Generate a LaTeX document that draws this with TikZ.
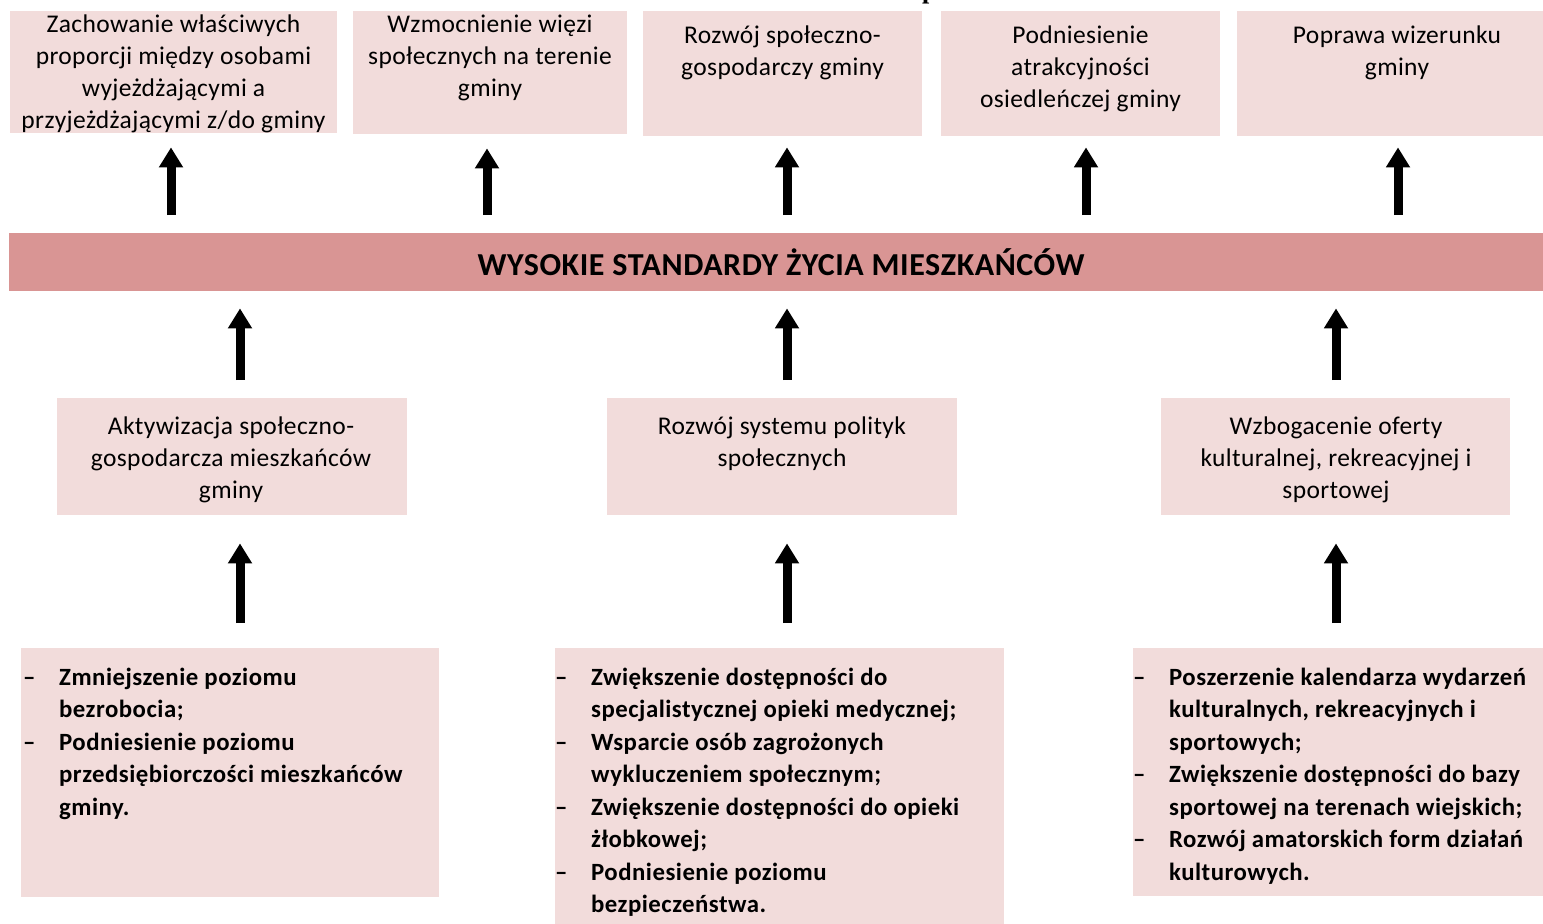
\documentclass[tikz,border=0pt]{standalone}
\usepackage{fontspec}
\setmainfont{Carlito}
\newfontfamily\titlefont{Liberation Serif}
\usetikzlibrary{arrows.meta,calc}
\definecolor{boxpink}{HTML}{F2DCDB}
\definecolor{bandpink}{HTML}{D99594}
\begin{document}
\begin{tikzpicture}[x=1pt,y=-1pt,
  box/.style={fill=boxpink, draw=none, anchor=north west, inner sep=0pt},
  txt/.style={anchor=north, align=center, inner sep=0pt, font=\fontsize{25.5}{32}\selectfont\addfontfeature{LetterSpace=1.5}},
  listtxt/.style={anchor=north west, inner sep=0pt, font=\bfseries\fontsize{24.8}{32.5}\selectfont\addfontfeature{LetterSpace=2}},
  bigarrow/.style={line width=9pt, -{Triangle[width=23pt,length=20pt]}},
]
\useasboundingbox (0,0) rectangle (1543,924);
\begin{scope}
\clip (0,0) rectangle (1543,924);
\node[font=\titlefont\bfseries\fontsize{26}{30}\selectfont, anchor=base, inner sep=0pt] (title) at (780,-2) {Schemat 4. Drzewo celów – sfera społeczna};
\end{scope}

% top boxes
\node[box, minimum width=327pt, minimum height=122pt] (t1) at (10,11) {};
\node[box, minimum width=274pt, minimum height=123pt] (t2) at (353,11) {};
\node[box, minimum width=279pt, minimum height=125pt] (t3) at (643,11) {};
\node[box, minimum width=279pt, minimum height=125pt] (t4) at (941,11) {};
\node[box, minimum width=306pt, minimum height=125pt] (t5) at (1237,11) {};
\node[txt] (t1t) at (173.5,15) {Zachowanie właściwych\\proporcji między osobami\\wyjeżdżającymi a\\przyjeżdżającymi z/do gminy};
\node[txt] (t2t) at (490,15) {Wzmocnienie więzi\\społecznych na terenie\\gminy};
\node[txt] (t3t) at (782.5,26) {Rozwój społeczno-\\gospodarczy gminy};
\node[txt] (t4t) at (1080.5,26) {Podniesienie\\atrakcyjności\\osiedleńczej gminy};
\node[txt] (t5t) at (1397,26) {Poprawa wizerunku\\gminy};

% band
\node[fill=bandpink, anchor=north west, inner sep=0pt, minimum width=1534pt, minimum height=58pt] (band) at (9,233) {};
\node[font=\bfseries\fontsize{32}{36}\selectfont\addfontfeature{LetterSpace=1.8}, inner sep=0pt] (bandt) at (781,262) {WYSOKIE STANDARDY ŻYCIA MIESZKAŃCÓW};

% middle boxes
\node[box, minimum width=350pt, minimum height=117pt] (m1) at (57,398) {};
\node[box, minimum width=350pt, minimum height=117pt] (m2) at (607,398) {};
\node[box, minimum width=349pt, minimum height=117pt] (m3) at (1161,398) {};
\node[txt] (m1t) at (231,417) {Aktywizacja społeczno-\\gospodarcza mieszkańców\\gminy};
\node[txt] (m2t) at (782,417) {Rozwój systemu polityk\\społecznych};
\node[txt] (m3t) at (1336,417) {Wzbogacenie oferty\\kulturalnej, rekreacyjnej i\\sportowej};

% bottom boxes
\node[box, minimum width=418pt, minimum height=249pt] (b1) at (21,648) {};
\node[box, minimum width=449pt, minimum height=276pt] (b2) at (555,648) {};
\node[box, minimum width=410pt, minimum height=248pt] (b3) at (1133,648) {};
\node[listtxt] (b1t) at (23,662.5) {\begin{tabular}{@{}p{36pt}@{}l@{}}
–&Zmniejszenie poziomu\\
&bezrobocia;\\
–&Podniesienie poziomu\\
&przedsiębiorczości mieszkańców\\
&gminy.
\end{tabular}};
\node[listtxt] (b2t) at (555,662.5) {\begin{tabular}{@{}p{36pt}@{}l@{}}
–&Zwiększenie dostępności do\\
&specjalistycznej opieki medycznej;\\
–&Wsparcie osób zagrożonych\\
&wykluczeniem społecznym;\\
–&Zwiększenie dostępności do opieki\\
&żłobkowej;\\
–&Podniesienie poziomu\\
&bezpieczeństwa.
\end{tabular}};
\node[listtxt] (b3t) at (1133,662.5) {\begin{tabular}{@{}p{36pt}@{}l@{}}
–&Poszerzenie kalendarza wydarzeń\\
&kulturalnych, rekreacyjnych i\\
&sportowych;\\
–&Zwiększenie dostępności do bazy\\
&sportowej na terenach wiejskich;\\
–&Rozwój amatorskich form działań\\
&kulturowych.
\end{tabular}};

% arrow columns
\coordinate (ax1) at (171,0);
\coordinate (ax2) at (487,0);
\coordinate (ax3) at (787,0);
\coordinate (ax4) at (1086,0);
\coordinate (ax5) at (1398,0);
\coordinate (bx1) at (240,0);
\coordinate (bx2) at (787,0);
\coordinate (bx3) at (1336,0);

\draw[bigarrow, shorten <=18pt, shorten >=14pt] (band.north -| ax1) -- (t1.south -| ax1);
\draw[bigarrow, shorten <=18pt, shorten >=14pt] (band.north -| ax2) -- (t2.south -| ax2);
\draw[bigarrow, shorten <=18pt, shorten >=11pt] (band.north -| ax3) -- (t3.south -| ax3);
\draw[bigarrow, shorten <=18pt, shorten >=11pt] (band.north -| ax4) -- (t4.south -| ax4);
\draw[bigarrow, shorten <=18pt, shorten >=11pt] (band.north -| ax5) -- (t5.south -| ax5);

\draw[bigarrow, shorten <=18pt, shorten >=17pt] (m1.north -| bx1) -- (band.south -| bx1);
\draw[bigarrow, shorten <=18pt, shorten >=17pt] (m2.north -| bx2) -- (band.south -| bx2);
\draw[bigarrow, shorten <=18pt, shorten >=17pt] (m3.north -| bx3) -- (band.south -| bx3);

\draw[bigarrow, shorten <=25pt, shorten >=28pt] (b1.north -| bx1) -- (m1.south -| bx1);
\draw[bigarrow, shorten <=25pt, shorten >=28pt] (b2.north -| bx2) -- (m2.south -| bx2);
\draw[bigarrow, shorten <=25pt, shorten >=28pt] (b3.north -| bx3) -- (m3.south -| bx3);
\end{tikzpicture}
\end{document}
